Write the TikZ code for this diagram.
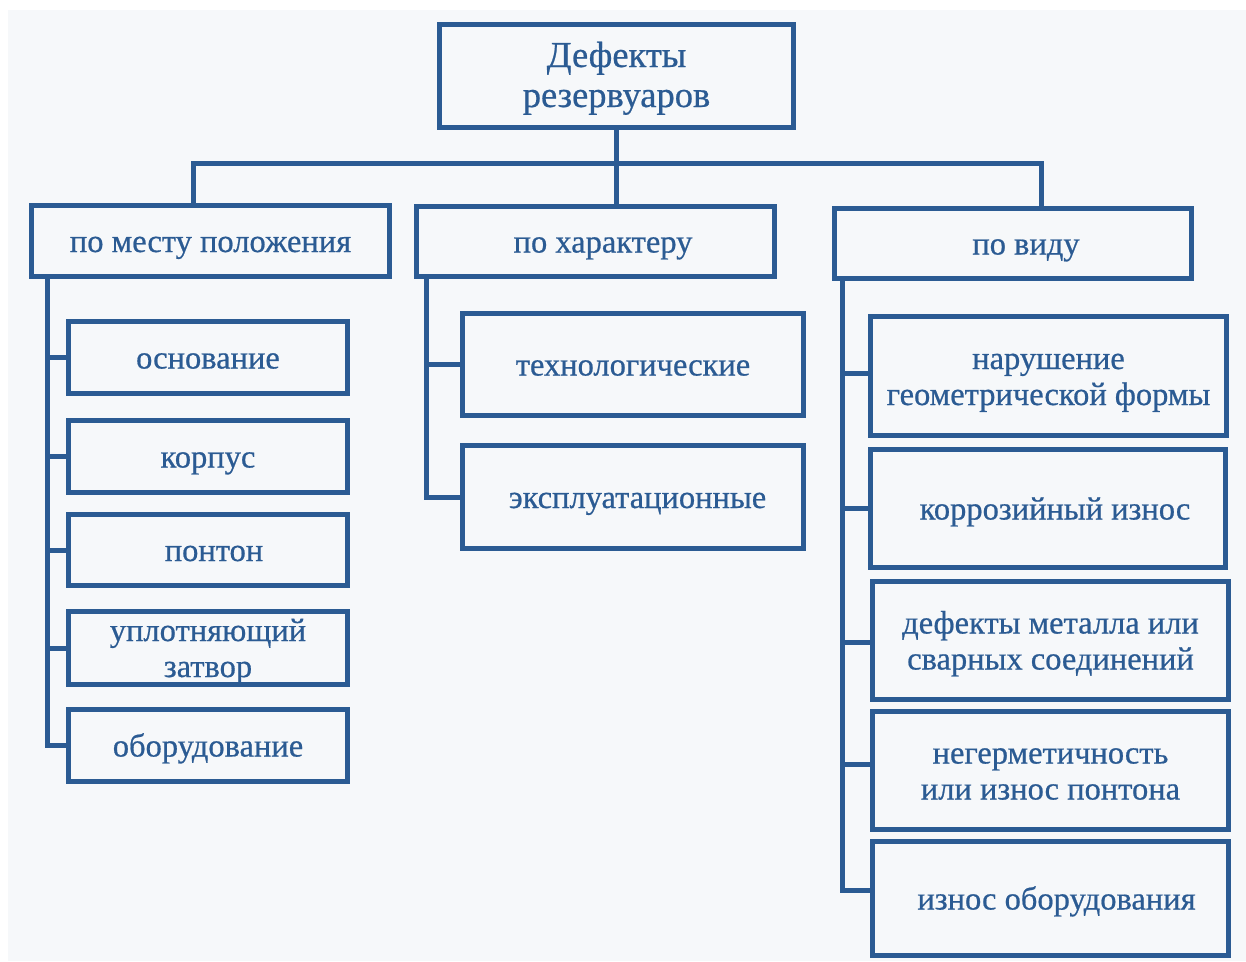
\documentclass[tikz,border=0pt]{standalone}
\usepackage{fontspec}
\setmainfont{Liberation Serif}[BoldFont=*, BoldFeatures={FakeBold=0.6}]
\definecolor{ln}{HTML}{2B5B93}
\definecolor{bg}{HTML}{F6F8FA}
\newcommand\sh[1]{\hspace*{#1}}
\begin{document}
\begin{tikzpicture}[x=1pt,y=-1pt,
  box/.style={draw=ln, line width=5pt, rectangle, inner sep=0pt, align=center,
    text=ln, font=\fontsize{32.5}{36}\selectfont\bfseries, text height=26pt, text depth=4pt},
  twoline/.style={text height=62pt},
  topbox/.style={box, font=\fontsize{36.5}{40}\selectfont\bfseries, text height=66pt},
  conn/.style={draw=ln, line width=5pt, line join=miter}]
\useasboundingbox (0,0) rectangle (1246,961);
\fill[white] (0,0) rectangle (1246,961);
\fill[bg] (8,10) rectangle (1246,961);
% root
\node[topbox, minimum width=354pt, minimum height=103pt] (top) at (616.5,76) {Дефекты\\резервуаров};
% level 1
\node[box, minimum width=358pt, minimum height=71pt] (p1) at (210.5,241) {по месту положения};
\node[box, minimum width=358pt, minimum height=70pt] (p2) at (595.5,241.5) {\sh{15pt}по характеру};
\node[box, minimum width=357pt, minimum height=70pt] (p3) at (1013,243.5) {\sh{26pt}по виду};
% left column
\node[box, minimum width=279pt, minimum height=72pt] (L1) at (208,357.5) {основание};
\node[box, minimum width=279pt, minimum height=72pt] (L2) at (208,456.5) {корпус};
\node[box, minimum width=279pt, minimum height=71pt] (L3) at (208,550) {\sh{12pt}понтон};
\node[box, twoline, minimum width=279pt, minimum height=73pt] (L4) at (208,648) {уплотняющий\\затвор};
\node[box, minimum width=279pt, minimum height=72pt] (L5) at (208,745.5) {оборудование};
% middle column
\node[box, minimum width=341pt, minimum height=102pt] (M1) at (633,364.5) {технологические};
\node[box, minimum width=341pt, minimum height=103pt] (M2) at (633,497) {\sh{9pt}эксплуатационные};
% right column
\node[box, twoline, minimum width=356pt, minimum height=119pt] (R1) at (1048.5,376) {нарушение\\геометрической формы};
\node[box, minimum width=355pt, minimum height=118pt] (R2) at (1048,508.5) {\sh{14pt}коррозийный износ};
\node[box, twoline, minimum width=356pt, minimum height=118pt] (R3) at (1050.5,640.5) {дефекты металла или\\сварных соединений};
\node[box, twoline, minimum width=356pt, minimum height=118pt] (R4) at (1050.5,770.5) {негерметичность\\или износ понтона};
\node[box, minimum width=356pt, minimum height=114pt] (R5) at (1050.5,898.5) {\sh{12pt}износ оборудования};
% bus
\coordinate (bl) at (193,163);
\coordinate (br) at (1041,163);
\coordinate (lt) at (47,0);
\coordinate (mt) at (426,0);
\coordinate (rt) at (842,0);
\draw[conn] (top.south) -- (p2.north -| top.south);
\draw[conn] (p1.north -| bl) -- (bl) -- (br) -- (p3.north -| br);
% left trunk
\draw[conn] (p1.south -| lt) |- (L5.west);
\foreach \n in {L1,L2,L3,L4} \draw[conn] (\n.west -| lt) -- (\n.west);
% middle trunk
\draw[conn] (p2.south -| mt) |- (M2.west);
\draw[conn] (M1.west -| mt) -- (M1.west);
% right trunk
\draw[conn] (p3.south -| rt) |- ([yshift=8pt]R5.west);
\draw[conn] ([yshift=3pt]R1.west -| rt) -- ([yshift=3pt]R1.west);
\draw[conn] (R2.west -| rt) -- (R2.west);
\draw[conn] ([yshift=-2pt]R3.west -| rt) -- ([yshift=-2pt]R3.west);
\draw[conn] ([yshift=6pt]R4.west -| rt) -- ([yshift=6pt]R4.west);
\end{tikzpicture}
\end{document}
